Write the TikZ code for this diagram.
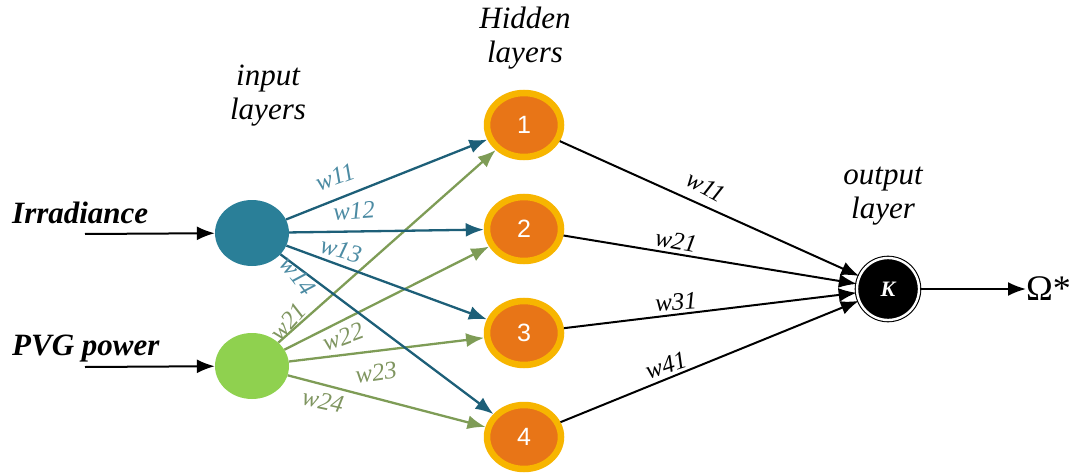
\documentclass[tikz,border=0pt]{standalone}
\usepackage{fontspec}
\setmainfont{Liberation Serif}
\newfontfamily\numfont{Liberation Sans}
\usetikzlibrary{arrows.meta,shapes.geometric}
\definecolor{bluefill}{HTML}{2A7F98}
\definecolor{blueline}{HTML}{1D5F78}
\definecolor{bluelab}{HTML}{4C8BA3}
\definecolor{greenfill}{HTML}{8FD14F}
\definecolor{greenline}{HTML}{7E9C56}
\definecolor{greenlab}{HTML}{7F9560}
\definecolor{gold}{HTML}{F7B500}
\definecolor{orng}{HTML}{E87517}
\tikzset{
  innode/.style={ellipse, minimum width=74pt, minimum height=66pt, inner sep=0pt},
  hidnode/.style={ellipse, minimum width=74pt, minimum height=64pt, fill=orng, draw=gold, line width=6.5pt, inner sep=0pt, text=white, font=\numfont\fontsize{25}{25}\selectfont},
  outnode/.style={circle, minimum size=62pt, fill=black, draw=black, line width=1.1pt, double=white, double distance=2.4pt, inner sep=0pt, text=white, font=\bfseries\itshape\fontsize{22}{22}\selectfont},
  arr/.style={line width=2.3pt, -{Latex[length=18pt,width=14pt]}},
  bl/.style={arr, draw=blueline},
  gl/.style={arr, draw=greenline},
  kl/.style={arr, draw=black, line width=2pt},
  wlab/.style={font=\itshape\fontsize{25}{25}\selectfont, inner sep=0pt},
  ttl/.style={font=\itshape\fontsize{31}{34}\selectfont, align=center, inner sep=0pt},
  inlab/.style={font=\bfseries\itshape\fontsize{31}{31}\selectfont, inner sep=0pt, anchor=west},
}
\begin{document}
\begin{tikzpicture}[x=1pt,y=-1pt]
\useasboundingbox (0,0) rectangle (1083,473);
% titles
\node[ttl] (tin) at (268,96) {input\\layers};
\node[ttl] (thid) at (525,38) {Hidden\\layers};
\node[ttl] (tout) at (883,196) {output\\layer};
% input texts
\node[inlab] (tirr) at (12,213) {Irradiance};
\node[inlab] (tpvg) at (12,349) {PVG power};
\coordinate (irrs) at (85,234);
\coordinate (pvgs) at (85,367);
% nodes
\node[innode, fill=bluefill] (a) at (252,233) {};
\node[innode, fill=greenfill] (b) at (252,366) {};
\node[hidnode] (h1) at (524,125) {1};
\node[hidnode] (h2) at (524,229) {2};
\node[hidnode] (h3) at (524,333) {3};
\node[hidnode] (h4) at (524,437) {4};
\node[outnode] (k) at (888,289) {K};
\node[font=\fontsize{36}{36}\selectfont, inner sep=0pt, anchor=west] (om) at (1026,289) {Ω*};
% input arrows
\draw[kl] (irrs) -- (a);
\draw[kl] (pvgs) -- (b);
% green edges
\draw[gl] (b) -- (h1);
\draw[gl] (b) -- (h2);
\draw[gl] (b) -- (h3);
\draw[gl] (b) -- (h4);
% blue edges
\draw[bl] (a) -- (h1);
\draw[bl] (a) -- (h2);
\draw[bl] (a) -- (h3);
\draw[bl] (a) -- (h4);
% hidden to output
\draw[kl] (h1) -- (k);
\draw[kl] (h2) -- (k);
\draw[kl] (h3) -- (k);
\draw[kl] (h4) -- (k);
\draw[kl] (k) -- (om);
% blue labels
\node[wlab, text=bluelab, rotate=20] (lw11) at (335,177) {w11};
\node[wlab, text=bluelab, rotate=4] (lw12) at (354,211) {w12};
\node[wlab, text=bluelab, rotate=-15] (lw13) at (341,250) {w13};
\node[wlab, text=bluelab, rotate=-52] (lw14) at (298,276) {w14};
% green labels
\node[wlab, text=greenlab, rotate=48] (lw21) at (288,322) {w21};
\node[wlab, text=greenlab, rotate=20] (lw22) at (343,337) {w22};
\node[wlab, text=greenlab, rotate=8] (lw23) at (376,373) {w23};
\node[wlab, text=greenlab, rotate=-12] (lw24) at (323,401) {w24};
% black labels
\node[wlab, rotate=-28] (kw11) at (706,187) {w11};
\node[wlab, rotate=-10] (kw21) at (676,241) {w21};
\node[wlab, rotate=4] (kw31) at (676,302) {w31};
\node[wlab, rotate=18] (kw41) at (666,365) {w41};
\end{tikzpicture}
\end{document}
